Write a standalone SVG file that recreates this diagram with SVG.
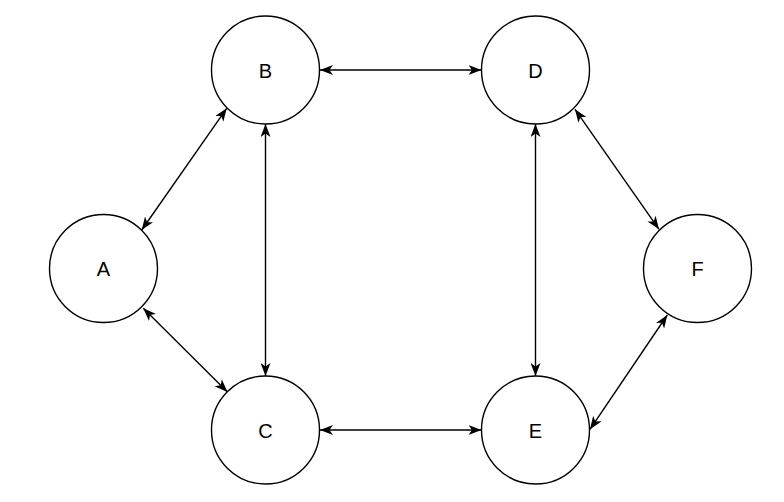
<svg xmlns="http://www.w3.org/2000/svg" width="784" height="502" viewBox="0 0 784 502">
<defs>
<style>
.node circle{fill:#fff;stroke:#000;stroke-width:1.4}
.node text{font-family:"Liberation Sans",Arial,sans-serif;font-size:20px;fill:#000;text-anchor:middle;dominant-baseline:central}
.edge{stroke:#000;stroke-width:1.4;fill:none;marker-start:url(#arr);marker-end:url(#arr)}
</style>
<marker id="arr" viewBox="0 0 13 10" refX="13" refY="5" markerWidth="13" markerHeight="10" markerUnits="userSpaceOnUse" orient="auto-start-reverse">
<path d="M0,0 L13,5 L0,10 L3.5,5 Z" fill="#000"/>
</marker>
</defs>
<rect width="784" height="502" fill="#fff"/>
<g id="connectors">
<line class="edge" x1="141.7" y1="230" x2="226.7" y2="108.3"/>
<line class="edge" x1="143.3" y1="308.3" x2="227.5" y2="392"/>
<line class="edge" x1="320" y1="70" x2="481.5" y2="70"/>
<line class="edge" x1="320" y1="430" x2="481.5" y2="430"/>
<line class="edge" x1="265.5" y1="124" x2="265.5" y2="376"/>
<line class="edge" x1="535.5" y1="124" x2="535.5" y2="376"/>
<line class="edge" x1="575" y1="109.3" x2="659" y2="229.3"/>
<line class="edge" x1="590" y1="429.3" x2="667.3" y2="315"/>
</g>
<g id="A" class="node"><circle cx="103.5" cy="268.5" r="54"/><text x="103.5" y="269">A</text></g>
<g id="B" class="node"><circle cx="265.5" cy="70" r="54"/><text x="265.5" y="70.5">B</text></g>
<g id="C" class="node"><circle cx="265.5" cy="430" r="54"/><text x="265.5" y="430.5">C</text></g>
<g id="D" class="node"><circle cx="535.5" cy="70" r="54"/><text x="535.5" y="70.5">D</text></g>
<g id="E" class="node"><circle cx="535.5" cy="430" r="54"/><text x="535.5" y="430.5">E</text></g>
<g id="F" class="node"><circle cx="697.5" cy="268.5" r="54"/><text x="697.5" y="269">F</text></g>
</svg>
